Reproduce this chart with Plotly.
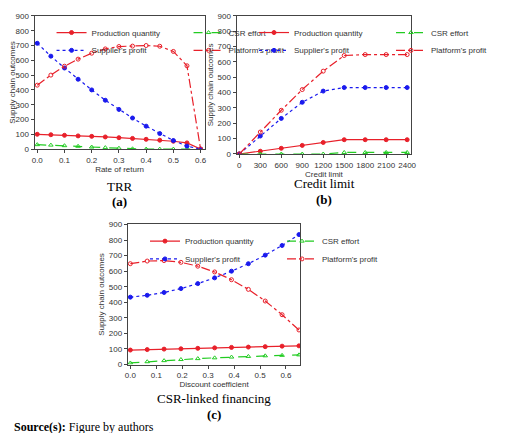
import plotly.graph_objects as go

xa = [0.0,0.05,0.1,0.15,0.2,0.25,0.3,0.35,0.4,0.45,0.5,0.55,0.6]
qa = [100,97,93,89,86,82,77,72,66,60,53,42,0]
ea = [30,27,23,19,14,10,6,2,0,0,0,0,0]
sa = [715,628,548,472,400,330,268,210,155,105,58,20,0]
pa = [432,500,560,608,648,677,693,696,700,695,660,563,0]

xb = [0,300,600,900,1200,1500,1800,2100,2400]
qb = [0,18,37,56,75,93,93,93,93]
eb = [0,0,0,0,0,10,10,10,10]
sb = [0,117,232,337,410,433,433,433,433]
pb = [0,143,285,420,540,642,648,648,648]

xc = [0.0,0.065,0.13,0.195,0.26,0.325,0.39,0.455,0.52,0.585,0.65]
qc = [93,96,99,101,104,107,110,112,115,118,120]
ec = [10,18,25,32,38,43,48,52,56,59,62]
sc = [433,445,463,488,520,557,600,648,703,765,835]
pc = [648,665,668,657,632,595,545,483,408,320,222]

names = ["Production quantity", "CSR effort", "Supplier's profit", "Platform's profit"]
styles = [
    dict(color="#e8202a", dash="solid", symbol="circle"),
    dict(color="#22cc22", dash="dash", symbol="triangle-up-open"),
    dict(color="#1a1aee", dash="dot", symbol="circle"),
    dict(color="#e8202a", dash="dashdot", symbol="circle-open"),
]

fig = go.Figure()
panels = [
    (xa, [qa, ea, sa, pa], "x", "y", 0),
    (xb, [qb, eb, sb, pb], "x2", "y2", 1),
    (xc, [qc, ec, sc, pc], "x3", "y3", 2),
]
def lgname(i):
    return "legend" if i == 0 else f"legend{i+1}"
for xs, ys, xax, yax, p in panels:
    for k, (n, y, st) in enumerate(zip(names, ys, styles)):
        fig.add_trace(go.Scatter(
            x=xs, y=y, name=n, mode="lines+markers", xaxis=xax, yaxis=yax,
            legend=lgname(2*p + k//2),
            line=dict(color=st["color"], dash=st["dash"], width=1.2),
            marker=dict(symbol=st["symbol"], size=4, color=st["color"], line=dict(width=1, color=st["color"]))))

ax = dict(showline=True, mirror=True, linecolor="#444", linewidth=1, ticks="outside", ticklen=3,
          showgrid=False, zeroline=False, tickfont=dict(size=8, family="Liberation Sans", color="#333"))
yax = dict(ax, range=[0, 900], dtick=100, title=dict(text="Supply chain outcomes", font=dict(size=8), standoff=2))

def dom(x0, x1, y0, y1):
    return [x0/520, x1/520], [1-y1/433, 1-y0/433]

dxa, dya = dom(29, 248, 4, 140)
dxb, dyb = dom(289, 514, 4, 145)
dxc, dyc = dom(149, 371, 217, 360)

fig.update_layout(
    width=520, height=433, margin=dict(l=0, r=0, t=0, b=0),
    paper_bgcolor="white", plot_bgcolor="white", showlegend=True,
    font=dict(family="Liberation Sans", size=8, color="#333"),
    xaxis=dict(ax, domain=dxa, anchor="y", range=[-0.01, 0.615], dtick=0.1, tickformat=".1f",
               title=dict(text="Rate of return", font=dict(size=8), standoff=2)),
    yaxis=dict(yax, domain=dya, anchor="x"),
    xaxis2=dict(ax, domain=dxb, anchor="y2", range=[-40, 2460], tickvals=xb,
                title=dict(text="Credit limit", font=dict(size=8), standoff=1)),
    yaxis2=dict(yax, domain=dyb, anchor="x2"),
    xaxis3=dict(ax, domain=dxc, anchor="y3", range=[-0.01, 0.655], dtick=0.1, tickformat=".1f",
                title=dict(text="Discount coefficient", font=dict(size=8), standoff=2)),
    yaxis3=dict(yax, domain=dyc, anchor="x3"),
)
for p, (dx, dy) in enumerate([(dxa, dya), (dxb, dyb), (dxc, dyc)]):
    for r in range(2):
        fig.update_layout({lgname(2*p + r): dict(
            x=dx[0] + 0.1*(dx[1]-dx[0]), y=dy[1] - 0.005 - r*0.042, xanchor="left", yanchor="top",
            orientation="h", entrywidth=92, entrywidthmode="pixels", bgcolor="rgba(0,0,0,0)",
            font=dict(size=8), itemwidth=30, traceorder="normal")})

tf = dict(family="Liberation Serif", size=13, color="black")
for txt, x, y, bold in [("TRR", 139, 178, False), ("(a)", 139, 194, True),
                        ("Credit limit", 402, 175, False), ("(b)", 402, 191, True),
                        ("CSR-linked financing", 260, 395, False), ("(c)", 260, 411, True)]:
    fig.add_annotation(text=f"<b>{txt}</b>" if bold else txt, x=x/520, y=1-y/433, xref="paper", yref="paper",
                       showarrow=False, font=tf, xanchor="center", yanchor="middle")
fig.add_annotation(text="<b>Source(s):</b> Figure by authors", x=0, y=1-424/433, xref="paper", yref="paper",
                   showarrow=False, font=dict(family="Liberation Serif", size=12, color="black"),
                   xanchor="left", yanchor="middle")

fig.write_html("out.html")
